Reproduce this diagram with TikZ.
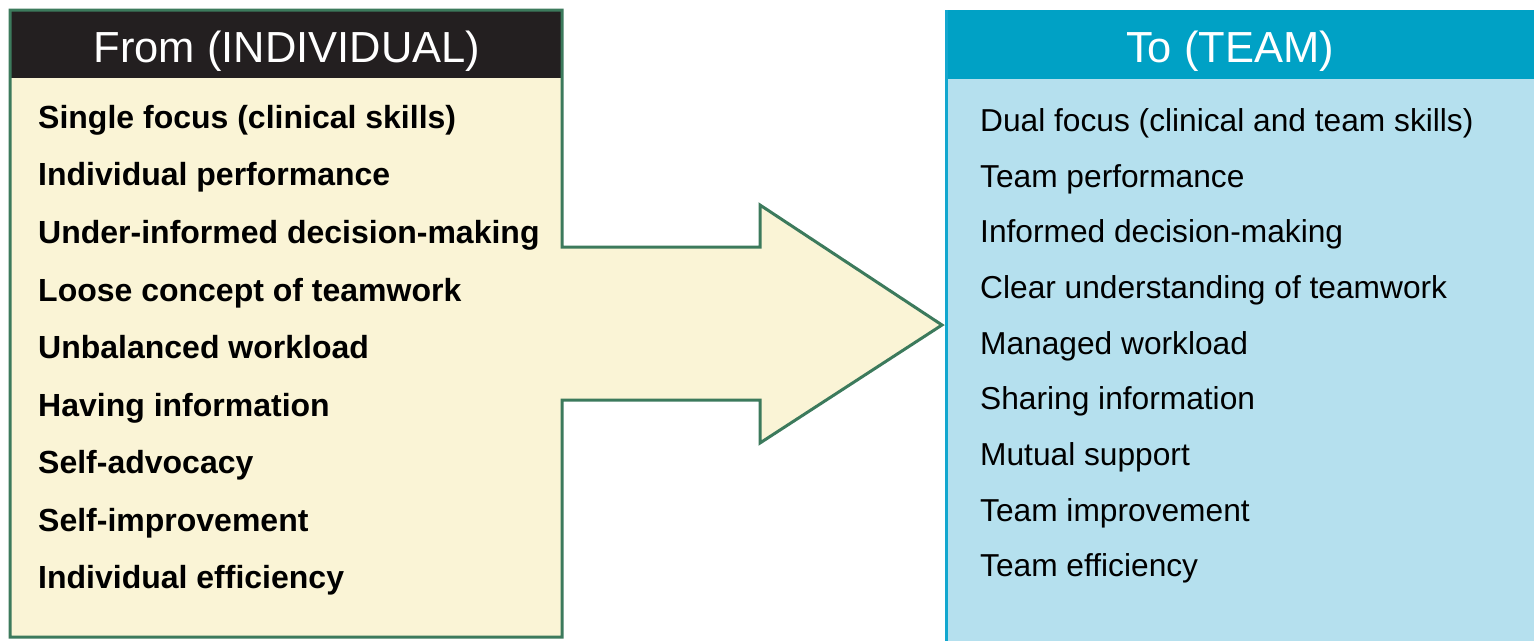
\documentclass[tikz,border=0pt]{standalone}
\usepackage{fontspec}
\setmainfont{Liberation Sans}
\definecolor{cream}{HTML}{FAF4D6}
\definecolor{boxgreen}{HTML}{3C7A5C}
\definecolor{hdrdark}{HTML}{231F20}
\definecolor{hdrblue}{HTML}{00A1C5}
\definecolor{bodyblue}{HTML}{B5E0EE}
\definecolor{edgeblue}{HTML}{12A7CF}
\tikzset{
  hdrtext/.style={text=white, font=\fontsize{43.5}{48}\selectfont, inner sep=0pt, anchor=base},
  leftitem/.style={font=\fontsize{32}{36}\selectfont\bfseries, inner sep=0pt, anchor=base west},
  rightitem/.style={font=\fontsize{31.7}{36}\selectfont, inner sep=0pt, anchor=base west},
}
\begin{document}
\begin{tikzpicture}[x=1pt,y=-1pt]
\useasboundingbox (0,0) rectangle (1534,641);
% right panel
\fill[bodyblue] (945,10) rectangle (1534,641);
\fill[hdrblue] (945,10) rectangle (1534,79);
\draw[edgeblue, line width=3pt] (946.5,10) -- (946.5,641);
% left panel with arrow
\fill[cream] (10,10) -- (562,10) -- (562,247) -- (760,247) -- (760,205) -- (942,325) -- (760,443) -- (760,400) -- (562,400) -- (562,637) -- (10,637) -- cycle;
\fill[hdrdark] (10,10) rectangle (562,78);
\draw[boxgreen, line width=3pt, line join=miter] (10,10) -- (562,10) -- (562,247) -- (760,247) -- (760,205) -- (942,325) -- (760,443) -- (760,400) -- (562,400) -- (562,637) -- (10,637) -- cycle;
% headers
\node[hdrtext] (fromhdr) at (287,62) {From (INDIVIDUAL)};
\node[hdrtext] (tohdr) at (1230,62) {To (TEAM)};
% left items
\node[leftitem] (l1) at (38,128) {Single focus (clinical skills)};
\node[leftitem] (l2) at (38,185) {Individual performance};
\node[leftitem] (l3) at (38,243) {Under-informed decision-making};
\node[leftitem] (l4) at (38,301) {Loose concept of teamwork};
\node[leftitem] (l5) at (38,358) {Unbalanced workload};
\node[leftitem] (l6) at (38,416) {Having information};
\node[leftitem] (l7) at (38,473) {Self-advocacy};
\node[leftitem] (l8) at (38,531) {Self-improvement};
\node[leftitem] (l9) at (38,588) {Individual efficiency};
% right items
\node[rightitem] (r1) at (980,131) {Dual focus (clinical and team skills)};
\node[rightitem] (r2) at (980,187) {Team performance};
\node[rightitem] (r3) at (980,242) {Informed decision-making};
\node[rightitem] (r4) at (980,298) {Clear understanding of teamwork};
\node[rightitem] (r5) at (980,354) {Managed workload};
\node[rightitem] (r6) at (980,409) {Sharing information};
\node[rightitem] (r7) at (980,465) {Mutual support};
\node[rightitem] (r8) at (980,521) {Team improvement};
\node[rightitem] (r9) at (980,576) {Team efficiency};
\end{tikzpicture}
\end{document}
